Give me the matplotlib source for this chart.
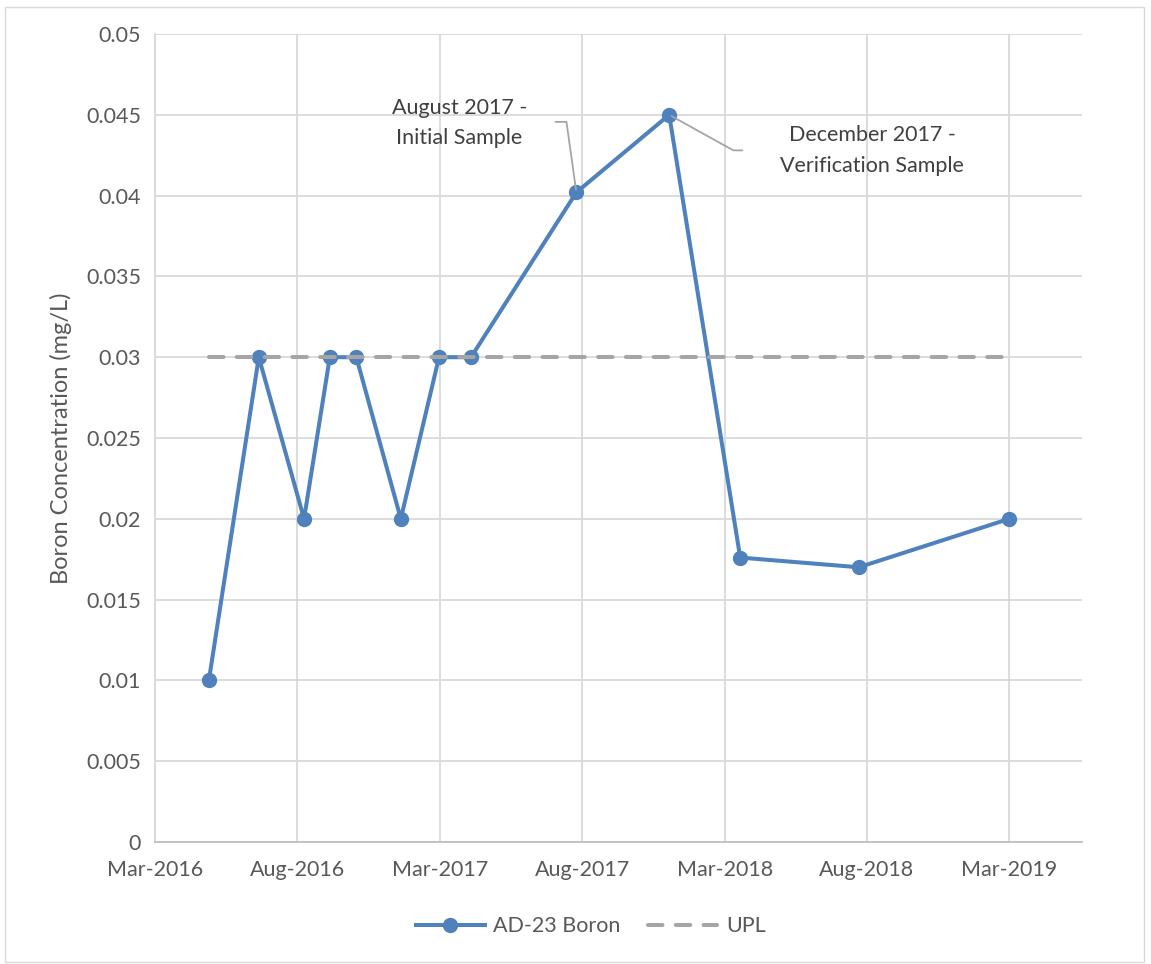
import numpy as np
import pandas as pd
import matplotlib.pyplot as plt
import matplotlib.dates as mdates
from matplotlib.patches import Rectangle

# sample dates and boron results
sample_dates = ['2016-05-09', '2016-07-12', '2016-09-08', '2016-10-11', '2016-11-14',
                '2017-01-10', '2017-02-28', '2017-04-10', '2017-08-23', '2017-12-20',
                '2018-03-21', '2018-08-20', '2019-03-01']
boron = [0.01, 0.03, 0.02, 0.03, 0.03, 0.02, 0.03, 0.03, 0.0402, 0.045, 0.0176, 0.017, 0.02]
upl_value = 0.03

tick_labels = ['Mar-2016', 'Aug-2016', 'Mar-2017', 'Aug-2017', 'Mar-2018', 'Aug-2018', 'Mar-2019']
y_ticks = [0, 0.005, 0.01, 0.015, 0.02, 0.025, 0.03, 0.035, 0.04, 0.045, 0.05]
y_tick_labels = ['0', '0.005', '0.01', '0.015', '0.02', '0.025', '0.03', '0.035', '0.04', '0.045', '0.05']

dates = pd.to_datetime(sample_dates)
x_start = pd.Timestamp('2016-03-01')
x_end = pd.Timestamp('2019-06-02')
tick_dates = pd.date_range('2016-03-01', '2019-03-01', periods=len(tick_labels))

plt.rcParams['font.family'] = ['Lato', 'DejaVu Sans']
text_col = '#595959'
fs = 15.5

fig = plt.figure(figsize=(11.51, 9.64), dpi=100)
ax = fig.add_axes([0.1347, 0.1266, 0.8053, 0.8381])
fig.patches.append(Rectangle((0.004, 0.002), 0.99, 0.991, transform=fig.transFigure,
                             fill=False, edgecolor='#d9d9d9', lw=1))

ax.plot(dates, boron, color='#4f81bd', lw=2.9, marker='o', markersize=10,
        label='AD-23 Boron', zorder=3)
ax.plot([dates[0], dates[-1]], [upl_value, upl_value], color='#a5a5a5', lw=2.9,
        dashes=(3.6, 3.3), dash_capstyle='round', label='UPL', zorder=4)

ax.set_xlim(x_start, x_end)
ax.set_ylim(0, 0.05)
ax.set_xticks(tick_dates)
ax.set_xticklabels(tick_labels)
ax.set_yticks(y_ticks)
ax.set_yticklabels(y_tick_labels)
ax.grid(True, color='#d9d9d9', lw=1.3)
ax.set_axisbelow(True)
for s in ['top', 'right']:
    ax.spines[s].set_visible(False)
ax.spines['left'].set_color('#d9d9d9')
ax.spines['bottom'].set_color('#bfbfbf')
ax.spines['left'].set_linewidth(1.3)
ax.spines['bottom'].set_linewidth(1.3)
ax.tick_params(length=0, labelsize=fs, labelcolor=text_col)
ax.tick_params(axis='x', pad=13)
ax.tick_params(axis='y', pad=10)
ax.set_ylabel('Boron Concentration (mg/L)', fontsize=17, color=text_col, labelpad=10)

# callouts
ax.annotate('August 2017 -\nInitial Sample', xy=(dates[8], boron[8]),
            xytext=(pd.Timestamp('2017-03-26'), 0.0445), ha='center', va='center',
            fontsize=fs, color='#404040', linespacing=1.65,
            arrowprops=dict(arrowstyle='-', color='#a5a5a5', lw=1.3,
                            connectionstyle='angle,angleA=0,angleB=98,rad=0',
                            relpos=(1.19, 0.52)))
ax.annotate('December 2017 -\nVerification Sample', xy=(dates[9], boron[9]),
            xytext=(pd.Timestamp('2018-09-06'), 0.0428), ha='center', va='center',
            fontsize=fs, color='#404040', linespacing=1.65,
            arrowprops=dict(arrowstyle='-', color='#a5a5a5', lw=1.3,
                            connectionstyle='angle,angleA=180,angleB=-29,rad=0',
                            relpos=(-0.19, 0.5)))

ax.legend(loc='upper center', bbox_to_anchor=(0.47, -0.068), ncol=2, frameon=False,
          fontsize=fs, labelcolor=text_col, handlelength=3.2, handletextpad=0.4,
          columnspacing=1.3)

fig.savefig('out.png', dpi=100)
